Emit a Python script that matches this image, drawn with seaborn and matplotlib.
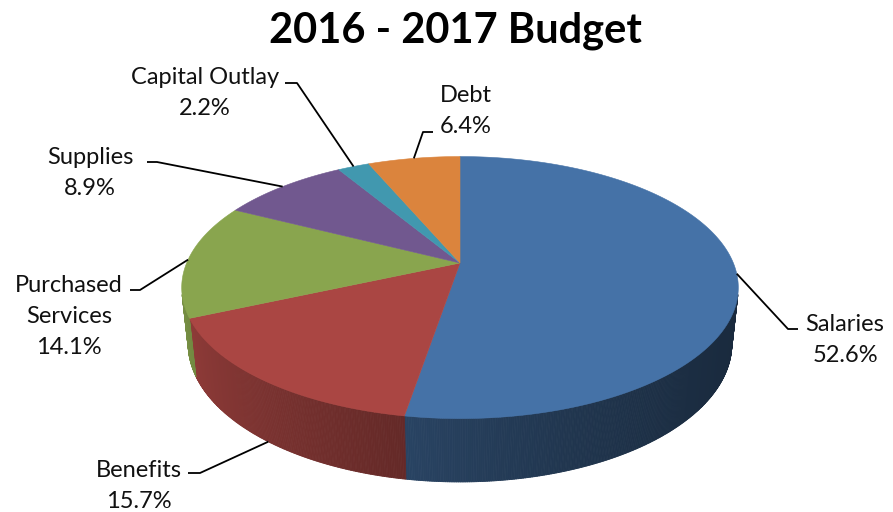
import numpy as np
import matplotlib
matplotlib.use("Agg")
import matplotlib.pyplot as plt
from matplotlib.patches import Polygon
from matplotlib.collections import PolyCollection
from matplotlib.colors import to_rgb
import seaborn as sns

# ---- data -----------------------------------------------------------------
categories = ["Salaries", "Benefits", "Purchased Services", "Supplies",
              "Capital Outlay", "Debt"]
shares = [52.6, 15.7, 14.1, 8.9, 2.2, 6.4]
slice_colors = ["#4572A7", "#AA4643", "#89A54E", "#71588F", "#4198AF", "#DB843D"]
title = "2016 - 2017 Budget"

# ---- label layout (pixel space) --------------------------------------------
wrapped = {"Purchased Services": ["Purchased", "Services"]}
label_x = [845, 139, 69, 90, 205, 466]
label_baseline = [331, 477, 292, 164, 84, 102]
leader_elbow = [(788, 329), (200, 473), (140, 290), (157, 162), (297, 83), (423, 132)]
leader_tail = [(798, 329), (188, 473), (130, 290), (147, 162), (285, 83), (433, 132)]
leader_on_base = [False, True, False, False, False, False]
line_step = 31

# ---- 3D pie projection ------------------------------------------------------
CX, CY = 460.0, 263.0           # screen position of the pie centre
SIN_A, COS_A = 0.4624, 0.8867   # camera elevation
DIST, FOCAL = 4.73, 1293.0      # perspective distance and focal length
DEPTH = 0.233                   # thickness of the pie (unit radius)


def project(t, z=0.0):
    """Point on the rim at angle t (clockwise from the far side), height z."""
    t = np.asarray(t, dtype=float)
    X, Y = np.sin(t), np.cos(t)
    yc = Y * SIN_A + z * COS_A
    d = DIST + Y * COS_A - z * SIN_A
    return CX + FOCAL * X / d, CY - FOCAL * yc / d


def centre(z=0.0):
    yc = z * COS_A
    d = DIST - z * SIN_A
    return CX, CY - FOCAL * yc / d


sns.set_theme(style="white")
plt.rcParams["font.family"] = ["Lato", "DejaVu Sans"]

fig = plt.figure(figsize=(8.93, 5.12), dpi=100)
ax = fig.add_axes([0, 0, 1, 1])
ax.set_xlim(0, 893)
ax.set_ylim(512, 0)
ax.axis("off")

total = sum(shares)
bounds = np.concatenate([[0.0], np.cumsum(shares) / total]) * 2 * np.pi

# visible part of the cylinder wall
t_vis = np.arccos(-1.0 / (DIST * COS_A))
vis_lo, vis_hi = t_vis, 2 * np.pi - t_vis


def shade(x):
    frac = np.clip((x - 183.0) / 555.0, 0, 1)
    return 0.86 - 0.49 * frac ** 0.65


polys, pcolors = [], []
for i, col in enumerate(slice_colors):
    lo, hi = max(bounds[i], vis_lo), min(bounds[i + 1], vis_hi)
    if hi <= lo:
        continue
    ts = np.linspace(lo, hi, max(3, int((hi - lo) * 180)))
    xt, yt = project(ts, 0.0)
    xb, yb = project(ts, -DEPTH)
    base = np.array(to_rgb(col))
    for k in range(len(ts) - 1):
        quad = [(xt[k], yt[k]), (xt[k + 1], yt[k + 1]),
                (xb[k + 1], yb[k + 1]), (xb[k], yb[k])]
        f = shade(0.5 * (xt[k] + xt[k + 1]))
        polys.append(quad)
        pcolors.append(tuple(base * f))
ax.add_collection(PolyCollection(polys, facecolors=pcolors, edgecolors=pcolors,
                                 linewidths=0.6))

# top face
cx0, cy0 = centre(0.0)
for i, col in enumerate(slice_colors):
    ts = np.linspace(bounds[i], bounds[i + 1], max(4, int((bounds[i + 1] - bounds[i]) * 120)))
    xs, ys = project(ts, 0.0)
    pts = np.column_stack([np.r_[cx0, xs], np.r_[cy0, ys]])
    ax.add_patch(Polygon(pts, closed=True, facecolor=col, edgecolor=col,
                         linewidth=0.4))

# labels with leader lines
for i, name in enumerate(categories):
    mid = 0.5 * (bounds[i] + bounds[i + 1])
    z = -DEPTH if leader_on_base[i] else 0.0
    px, py = project(mid, z)
    ex, ey = leader_elbow[i]
    tx, ty = leader_tail[i]
    ax.plot([float(px), ex, tx], [float(py), ey, ty], color="black", lw=1.3,
            solid_capstyle="butt")
    lines = wrapped.get(name, [name]) + [f"{shares[i]:.1f}%"]
    for j, s in enumerate(lines):
        ax.text(label_x[i], label_baseline[i] + j * line_step, s, ha="center",
                va="baseline", fontsize=17, color="#111111")

ax.text(455, 43, title, ha="center", va="baseline", fontsize=30,
        fontweight="bold", color="black")

fig.savefig("out.png", dpi=100, facecolor="white")
